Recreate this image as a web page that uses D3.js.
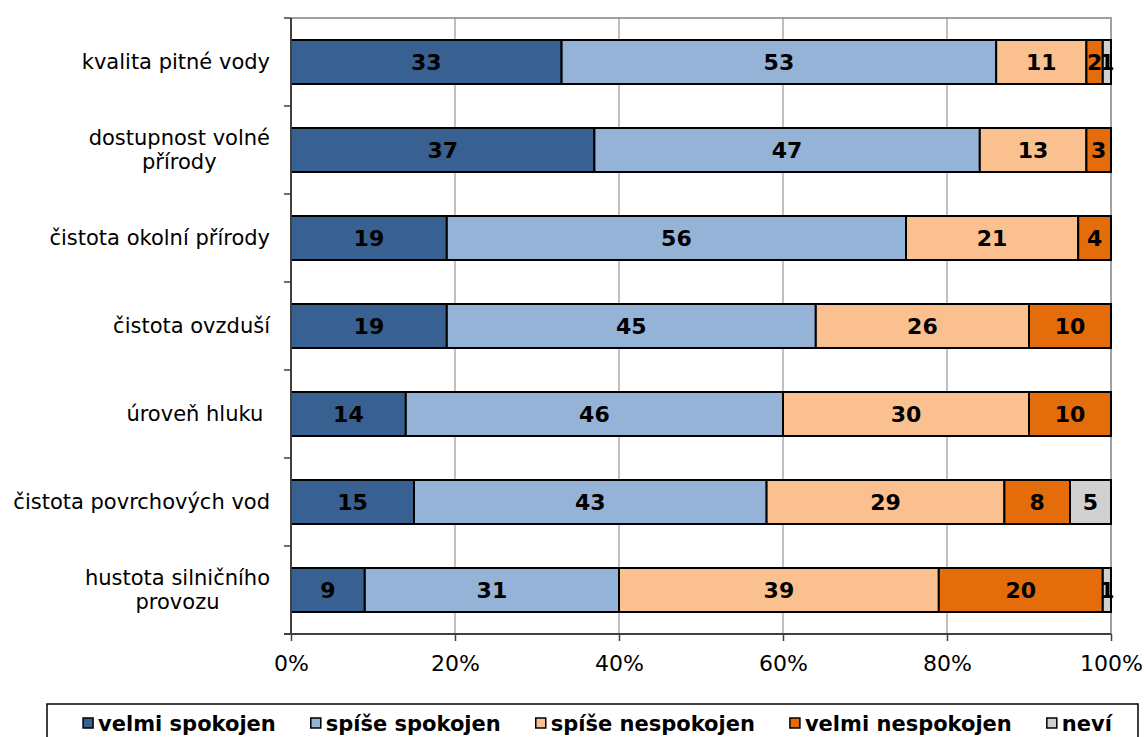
<!DOCTYPE html>
<html><head><meta charset="utf-8">
<script src="https://cdn.jsdelivr.net/npm/d3@7"></script>
<style>
html,body{margin:0;padding:0;background:#fff;}
svg{display:block;}
</style></head>
<body>
<svg id="chart" width="1144" height="737"></svg>
<script>
const categories = ["kvalita pitné vody", "dostupnost volné\npřírody", "čistota okolní přírody", "čistota ovzduší", "úroveň hluku ", "čistota povrchových vod", "hustota silničního\nprovozu"];
const seriesNames = ["velmi spokojen", "spíše spokojen", "spíše nespokojen", "velmi nespokojen", "neví"];
const velmiSpokojen   = [33, 37, 19, 19, 14, 15, 9];
const spiseSpokojen   = [53, 47, 56, 45, 46, 43, 31];
const spiseNespokojen = [11, 13, 21, 26, 30, 29, 39];
const velmiNespokojen = [2, 3, 4, 10, 10, 8, 20];
const nevi            = [1, 0, 0, 0, 0, 5, 1];
const tickValues = [0, 20, 40, 60, 80, 100];
const colors = ["#386090", "#95B3D7", "#FAC090", "#E46C0A", "#D0D0D0"];

const seriesValues = [velmiSpokojen, spiseSpokojen, spiseNespokojen, velmiNespokojen, nevi];
const rows = categories.map((c, i) => {
  const o = {cat: c};
  seriesNames.forEach((s, j) => o[s] = seriesValues[j][i]);
  return o;
});
const stacked = d3.stack().keys(seriesNames)(rows);
const FONT = "DejaVu Sans, Verdana, sans-serif";

const svg = d3.select("#chart");
const L = 291, R = 1111, T = 18, B = 634;
const x = d3.scaleLinear().domain([0, 100]).range([L, R]);
const y = d3.scaleBand().domain(categories).range([T, B]).paddingInner(0.5).paddingOuter(0.25);
const yOuter = d3.scaleBand().domain(categories).range([T, B]);

// plot border (top & right)
svg.append("path").attr("d", `M${L},${T}H${R}V${B}`).attr("fill", "none").attr("stroke", "#a0a0a0").attr("stroke-width", 2);

// gridlines
svg.append("g").selectAll("line").data(tickValues.slice(1, -1)).join("line")
  .attr("x1", d => x(d)).attr("x2", d => x(d)).attr("y1", T).attr("y2", B)
  .attr("stroke", "#808080").attr("stroke-width", 1);

// bars
const g = svg.append("g");
stacked.forEach((layer, j) => {
  g.append("g").selectAll("rect").data(layer.filter(d => d[1] - d[0] > 0)).join("rect")
    .attr("x", d => x(d[0])).attr("width", d => x(d[1]) - x(d[0]))
    .attr("y", d => y(d.data.cat)).attr("height", y.bandwidth())
    .attr("fill", colors[j]).attr("stroke", "#000").attr("stroke-width", 2);
});
stacked.forEach((layer, j) => {
  g.append("g").selectAll("text").data(layer.filter(d => d[1] - d[0] > 0)).join("text")
    .attr("x", d => (x(d[0]) + x(d[1])) / 2)
    .attr("y", d => y(d.data.cat) + y.bandwidth() / 2)
    .attr("text-anchor", "middle").attr("dominant-baseline", "central")
    .attr("font-family", FONT).attr("font-weight", "bold").attr("font-size", 22)
    .attr("fill", "#000")
    .text(d => d[1] - d[0]);
});

// axes
const xAxis = svg.append("g").attr("transform", `translate(0,${B})`)
  .call(d3.axisBottom(x).tickValues(tickValues).tickFormat(d => d + "%").tickSize(7).tickSizeOuter(0));
xAxis.select(".domain").remove();
xAxis.append("line").attr("x1", L - 7).attr("x2", R).attr("y1", 0).attr("y2", 0).attr("stroke", "#404040").attr("stroke-width", 2);
xAxis.selectAll(".tick line").attr("stroke", "#404040").attr("stroke-width", 1.5);
xAxis.selectAll(".tick text").attr("font-family", FONT).attr("font-size", 22).attr("fill", "#000").attr("y", 21).attr("dy", "0.71em");

const yAxisG = svg.append("g");
yAxisG.append("line").attr("x1", L).attr("x2", L).attr("y1", T).attr("y2", B).attr("stroke", "#404040").attr("stroke-width", 2);
yAxisG.selectAll("line.t").data(categories).join("line").attr("class", "t")
  .attr("x1", L - 7).attr("x2", L).attr("y1", d => yOuter(d)).attr("y2", d => yOuter(d))
  .attr("stroke", "#404040").attr("stroke-width", 1.5);

// category labels
const labelRight = 270;
categories.forEach(c => {
  const lines = c.split("\n");
  const cy = y(c) + y.bandwidth() / 2;
  const t = svg.append("text").attr("font-family", FONT).attr("font-size", 21)
    .attr("fill", "#000").style("white-space", "pre");
  const lh = 24;
  lines.forEach((ln, k) => {
    t.append("tspan").attr("y", cy + (k - (lines.length - 1) / 2) * lh).attr("dominant-baseline", "central").text(ln);
  });
  if (lines.length === 1) {
    t.attr("text-anchor", "end").selectAll("tspan").attr("x", labelRight);
  } else {
    t.attr("text-anchor", "middle");
    let maxW = 0;
    t.selectAll("tspan").each(function () { maxW = Math.max(maxW, this.getComputedTextLength()); });
    t.selectAll("tspan").attr("x", labelRight - maxW / 2);
  }
});

// legend
svg.append("rect").attr("x", 47).attr("y", 704).attr("width", 1091).attr("height", 40)
  .attr("fill", "#fff").attr("stroke", "#000").attr("stroke-width", 1.5);
const lg = svg.append("g");
const items = [];
seriesNames.forEach((s, j) => {
  const it = lg.append("g");
  it.append("rect").attr("x", 0).attr("y", -13).attr("width", 10).attr("height", 10)
    .attr("fill", colors[j]).attr("stroke", "#000").attr("stroke-width", 1.5);
  const tx = it.append("text").attr("x", 15).attr("y", 0).attr("font-family", FONT)
    .attr("font-weight", "bold").attr("font-size", 21).attr("fill", "#000").text(s);
  const w = 15 + tx.node().getComputedTextLength();
  items.push({it, w});
});
const gap = 35;
const total = d3.sum(items, d => d.w) + gap * (items.length - 1);
let start = 47 + (1091 - total) / 2 + 5;
items.forEach(d => { d.it.attr("transform", `translate(${start},731)`); start += d.w + gap; });
</script>
</body></html>
